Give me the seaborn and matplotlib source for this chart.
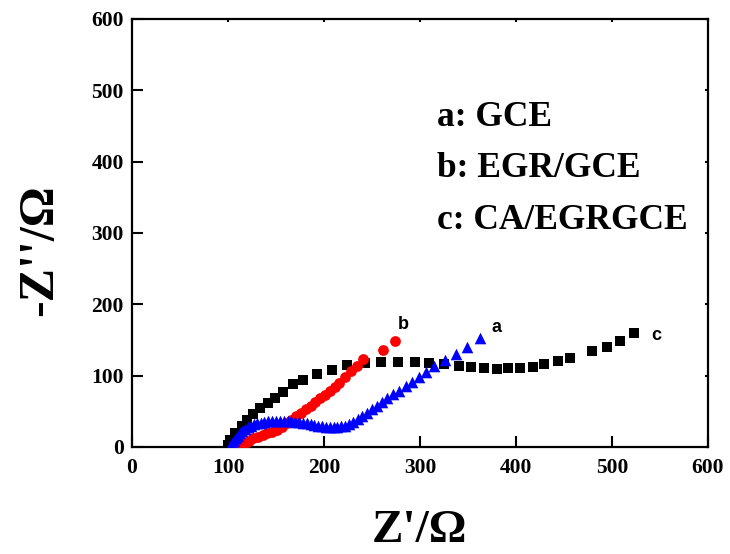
import matplotlib
matplotlib.use("Agg")
import matplotlib.pyplot as plt
import seaborn as sns
import pandas as pd

# a: GCE (blue triangles)
a_x = [102, 104, 106, 108, 110, 112, 115, 118, 121, 124, 127, 130, 134, 138, 142, 146, 150, 154, 158, 162,
       166, 170, 174, 178, 182, 186, 190, 194, 198, 202, 206, 210, 214, 218, 222, 226, 230, 235, 240, 245,
       250, 255, 260, 266, 272, 278, 285, 292, 299, 306, 315, 326, 337, 349, 362]
a_y = [1, 5, 9, 13, 16, 19, 22, 25, 28, 30, 32, 33, 34, 35, 36, 37, 37, 37, 37, 36,
       36, 35, 35, 34, 33, 32, 31, 30, 29, 28, 28, 28, 28, 29, 30, 32, 35, 39, 43, 48,
       53, 58, 63, 69, 74, 79, 85, 91, 98, 105, 113, 122, 131, 140, 153]

# b: EGR/GCE (red circles)
b_x = [112, 115, 118, 122, 126, 131, 136, 141, 146, 151, 156, 161, 166, 171, 176, 181, 186, 191, 196,
       201, 206, 211, 216, 222, 228, 234, 241, 261, 274]
b_y = [2, 4, 6, 9, 12, 14, 17, 19, 21, 24, 28, 33, 38, 43, 48, 53, 58, 63, 68,
       73, 78, 84, 90, 98, 106, 114, 123, 136, 149]

# c: CA/EGRGCE (black squares)
c_x = [100, 102, 107, 115, 120, 126, 133, 142, 149, 157, 168, 178, 193, 208, 224, 243, 259, 277, 295, 309,
       325, 341, 353, 367, 380, 392, 404, 418, 429, 444, 456, 479, 495, 508, 523]
c_y = [3, 10, 20, 29, 38, 46, 55, 62, 69, 77, 88, 94, 102, 108, 115, 118, 119, 119, 119, 118,
       116, 114, 112, 111, 110, 111, 111, 112, 116, 121, 125, 135, 140, 149, 160]

x_ticks = [0, 100, 200, 300, 400, 500, 600]
y_ticks = [0, 100, 200, 300, 400, 500, 600]
legend_lines = ["a: GCE", "b: EGR/GCE", "c: CA/EGRGCE"]

sns.set_style("ticks")
plt.rcParams["font.family"] = ["Liberation Serif", "DejaVu Serif"]
plt.rcParams["text.color"] = "black"
plt.rcParams["axes.labelcolor"] = "black"
plt.rcParams["xtick.color"] = "black"
plt.rcParams["ytick.color"] = "black"
plt.rcParams["axes.edgecolor"] = "black"

fig = plt.figure(figsize=(7.30, 5.54), dpi=100)
ax = fig.add_axes([132 / 730, 1 - 447 / 554, (708 - 132) / 730, (447 - 19) / 554])

da = pd.DataFrame({"x": a_x, "y": a_y})
db = pd.DataFrame({"x": b_x, "y": b_y})
dc = pd.DataFrame({"x": c_x, "y": c_y})

sns.scatterplot(data=dc, x="x", y="y", ax=ax, marker="s", color="black", s=50, linewidth=0, zorder=3)
sns.scatterplot(data=db, x="x", y="y", ax=ax, marker="o", color="#ff0000", s=60, linewidth=0, zorder=4)
sns.scatterplot(data=da, x="x", y="y", ax=ax, marker="^", color="#0000ff", s=70, linewidth=0, zorder=5)

ax.set_xlim(0, 600)
ax.set_ylim(0, 600)
ax.set_xticks(x_ticks)
ax.set_yticks(y_ticks)
ax.set_xticklabels([str(t) for t in x_ticks], fontsize=15.5, fontweight="bold")
ax.set_yticklabels([str(t) for t in y_ticks], fontsize=15.5, fontweight="bold")
ax.tick_params(axis="both", direction="in", length=8, width=1.5, pad=6,
               top=False, right=False)
ax.tick_params(axis="x", pad=8)
ax.tick_params(axis="x", which="both", top=True)
ax.tick_params(axis="y", which="both", right=True)
for s in ax.spines.values():
    s.set_linewidth(1.6)
# tiny marks on the top and right spines
for t in ax.xaxis.get_major_ticks():
    t.tick2line.set_markersize(2)
for t in ax.yaxis.get_major_ticks():
    t.tick2line.set_markersize(2)

ax.set_xlabel("Z'/Ω", fontsize=34, fontweight="bold")
ax.xaxis.set_label_coords(0.5, -0.147)
ax.set_ylabel("-Z''/Ω", fontsize=36, fontweight="bold")
ax.yaxis.set_label_coords(-0.120, 0.46)

for i, t in enumerate(legend_lines):
    ax.text(0.53, 0.770 - i * 0.12, t, transform=ax.transAxes, fontsize=25.5,
            fontweight="bold", va="center", ha="left")

ax.text(283, 172, "b", fontsize=13, fontweight="bold", family="Liberation Sans", ha="center", va="center")
ax.text(380, 168, "a", fontsize=13, fontweight="bold", family="Liberation Sans", ha="center", va="center")
ax.text(546, 157, "c", fontsize=13, fontweight="bold", family="Liberation Sans", ha="center", va="center")

fig.savefig("out.png", dpi=100)
